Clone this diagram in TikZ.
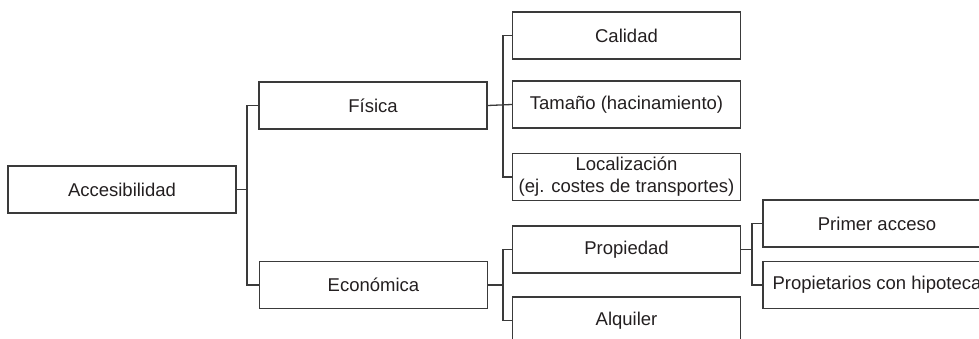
\documentclass[tikz,border=0pt]{standalone}
\usepackage{fontspec}
\setmainfont{Liberation Sans}
\begin{document}
\begin{tikzpicture}[x=1pt,y=-1pt,
  box/.style={draw=linegray, line width=1.3pt, rectangle, minimum width=228pt, minimum height=47pt, inner sep=0pt, align=center, text=textdark, font=\fontsize{18.5}{22}\selectfont},
  conn/.style={draw=linegray, line width=1.3pt}]
\definecolor{linegray}{HTML}{3A3A3A}
\definecolor{textdark}{HTML}{231F20}
\useasboundingbox (0,0) rectangle (979,339);
\clip (0,0) rectangle (979,339);
\node[box] (acc) at (122,189.5) {Accesibilidad};
\node[box] (fis) at (373,105.5) {Física};
\node[box] (eco) at (373.5,285) {Económica};
\node[box] (cal) at (626.5,35.5) {Calidad};
\node[box] (tam) at (626.5,104.5) {Tamaño (hacinamiento)};
\node[box] (loc) at (626.5,177) {Localización\\(ej. costes de transportes)};
\node[box] (pro) at (626.5,249.5) {Propiedad};
\node[box] (alq) at (626.5,320.5) {Alquiler};
\node[box] (pri) at (877,223.5) {Primer acceso};
\node[box] (hip) at (877,285) {Propietarios con hipoteca};
\coordinate (b1) at (247,189.5);
\coordinate (b2) at (503,105);
\coordinate (b3) at (503,285);
\coordinate (b4) at (752,249.5);
\draw[conn] (acc.east) -- (b1);
\draw[conn] (fis.west) -| (b1) |- (eco.west);
\draw[conn] (fis.east) -- (tam.west);
\draw[conn] (cal.west) -| (b2) |- (loc.west);
\draw[conn] (eco.east) -- (b3);
\draw[conn] (pro.west) -| (b3) |- (alq.west);
\draw[conn] (pro.east) -- (b4);
\draw[conn] (pri.west) -| (b4) |- (hip.west);
\end{tikzpicture}
\end{document}
